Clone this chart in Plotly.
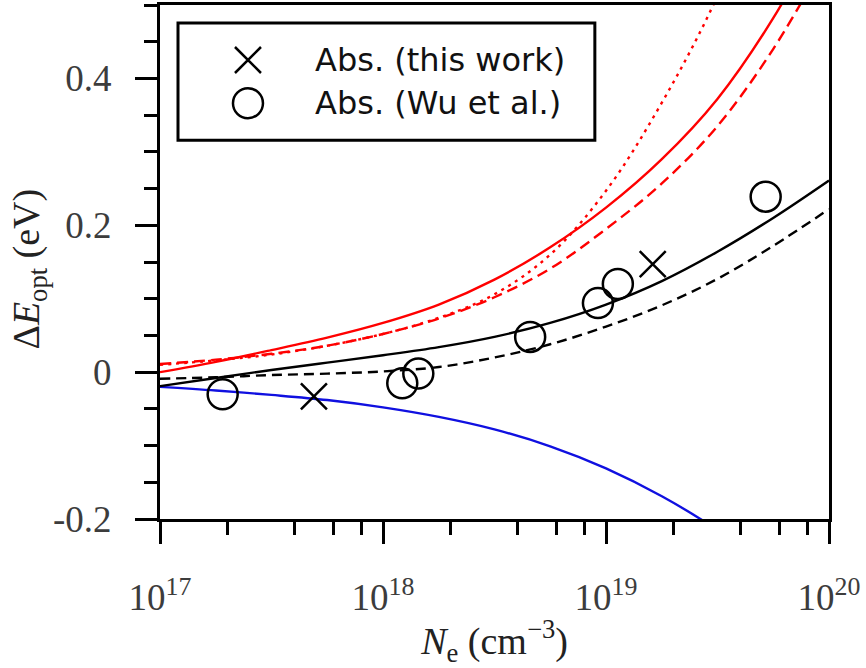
import plotly.graph_objects as go

# ---------------- data ----------------
N_grid = [1.0e17, 1.78e17, 3.16e17, 5.62e17, 1.0e18, 1.78e18, 3.16e18,
          5.62e18, 1.0e19, 1.78e19, 3.16e19, 5.62e19, 1.0e20]

black_solid = [-0.019, -0.008, 0.003, 0.013, 0.023, 0.034, 0.048,
               0.067, 0.092, 0.124, 0.164, 0.210, 0.261]
black_dashed = [-0.009, -0.007, -0.004, -0.002, 0.001, 0.007, 0.020,
                0.038, 0.062, 0.091, 0.127, 0.172, 0.222]
red_solid = [0.000, 0.014, 0.030, 0.047, 0.067, 0.092, 0.126,
             0.170, 0.224, 0.290, 0.372, 0.482, 0.620]
red_dashed = [0.011, 0.017, 0.025, 0.036, 0.052, 0.073, 0.102,
              0.141, 0.195, 0.257, 0.335, 0.440, 0.570]
N_dotted = [1.0e17, 1.78e17, 3.16e17, 5.62e17, 1.0e18, 1.78e18, 3.16e18,
            5.62e18, 1.0e19, 1.78e19, 3.16e19, 5.62e19]
red_dotted = [0.010, 0.016, 0.024, 0.036, 0.052, 0.074, 0.106,
              0.160, 0.247, 0.367, 0.512, 0.700]
blue_solid = [-0.020, -0.025, -0.031, -0.038, -0.048, -0.061, -0.078,
              -0.101, -0.131, -0.169, -0.215, -0.270, -0.330]

N_this = [4.9e17, 1.62e19]
dE_this = [-0.033, 0.147]
N_wu = [1.91e17, 1.22e18, 1.44e18, 4.57e18, 9.2e18, 1.13e19, 5.2e19]
dE_wu = [-0.030, -0.015, -0.002, 0.048, 0.094, 0.120, 0.239]

legend_labels = ["Abs. (this work)", "Abs. (Wu et al.)"]

x_tickvals = [1e17, 1e18, 1e19, 1e20]
x_ticktext = ["10<sup>17</sup>", "10<sup>18</sup>", "10<sup>19</sup>", "10<sup>20</sup>"]
x_minor = [2e17, 4e17, 6e17, 8e17, 2e18, 4e18, 6e18, 8e18, 2e19, 4e19, 6e19, 8e19]
y_tickvals = [-0.2, 0.0, 0.2, 0.4]
y_ticktext = ["-0.2", "0", "0.2", "0.4"]

x_title = "<i>N</i><sub>e</sub> (cm<sup>−3</sup>)"
y_title = "Δ<i>E</i><sub>opt</sub> (eV)"

SERIF = "Liberation Serif"
SANS = "DejaVu Sans"
LW = 2.4

fig = go.Figure()

def curve(x, y, color, dash):
    fig.add_trace(go.Scatter(x=x, y=y, mode="lines", line_shape="spline",
                             line=dict(color=color, width=LW, dash=dash),
                             showlegend=False, hoverinfo="skip"))

curve(N_grid, blue_solid, "#1010e0", "solid")
curve(N_grid, black_dashed, "black", "10px,6px")
curve(N_grid, black_solid, "black", "solid")
curve(N_grid, red_dashed, "#ff0000", "11px,6px")
curve(N_dotted, red_dotted, "#ff0000", "3px,5px")
curve(N_grid, red_solid, "#ff0000", "solid")

fig.add_trace(go.Scatter(x=N_this, y=dE_this, mode="markers", name=legend_labels[0],
                         marker=dict(symbol="x-thin-open", size=26, color="black",
                                     line=dict(color="black", width=2.5)),
                         showlegend=False, cliponaxis=False))
fig.add_trace(go.Scatter(x=N_wu, y=dE_wu, mode="markers", name=legend_labels[1],
                         marker=dict(symbol="circle-open", size=30, color="black",
                                     line=dict(color="black", width=2.5)),
                         showlegend=False, cliponaxis=False))

# ---- custom legend (large symbols) on an overlay axis in plot fractions ----
leg_x = 0.1315
leg_y = [0.893, 0.809]
fig.add_trace(go.Scatter(x=[leg_x], y=[leg_y[0]], xaxis="x2", yaxis="y2", mode="markers",
                         marker=dict(symbol="x-thin-open", size=26, color="black",
                                     line=dict(color="black", width=2.5)),
                         showlegend=False, hoverinfo="skip"))
fig.add_trace(go.Scatter(x=[leg_x], y=[leg_y[1]], xaxis="x2", yaxis="y2", mode="markers",
                         marker=dict(symbol="circle-open", size=30, color="black",
                                     line=dict(color="black", width=2.5)),
                         showlegend=False, hoverinfo="skip"))
for lbl, yy in zip(legend_labels, leg_y):
    fig.add_annotation(x=0.2287, y=yy, xref="x2", yref="y2", text=lbl, showarrow=False,
                       xanchor="left", yanchor="middle",
                       font=dict(family=SANS, size=32, color="#111111"))
fig.add_shape(type="rect", xref="x2", yref="y2", x0=0.0269, x1=0.650, y0=0.737, y1=0.965,
              line=dict(color="black", width=3), fillcolor="white", layer="below")

# y-axis title placed as rotated text to the left of the tick labels
fig.add_annotation(x=-0.196, y=0.487, xref="paper", yref="paper", text=y_title,
                   textangle=-90, showarrow=False, xanchor="center", yanchor="middle",
                   font=dict(family=SERIF, size=38, color="#222222"))

axis_common = dict(showline=True, linecolor="black", linewidth=3, mirror=True,
                   ticks="outside", ticklen=22, tickwidth=3, tickcolor="black",
                   showgrid=False, zeroline=False, automargin=False,
                   tickfont=dict(family=SERIF, size=37, color="#3c3c3c"))

fig.update_layout(
    width=866, height=668,
    margin=dict(l=160, r=37, t=5, b=149, autoexpand=False),
    paper_bgcolor="white", plot_bgcolor="white",
    xaxis=dict(type="log", range=[17, 20], tickmode="array",
               tickvals=x_tickvals, ticktext=x_ticktext,
               minor=dict(tickmode="array", tickvals=x_minor, ticks="outside",
                          ticklen=13, tickwidth=3, tickcolor="black"),
               ticklabelstandoff=22,
               title=dict(text=x_title, standoff=22,
                          font=dict(family=SERIF, size=38, color="#222222")),
               **axis_common),
    yaxis=dict(range=[-0.2, 0.5], tickmode="array", tickvals=y_tickvals, ticktext=y_ticktext,
               minor=dict(tickmode="linear", tick0=0, dtick=0.05, ticks="outside",
                          ticklen=13, tickwidth=3, tickcolor="black"),
               ticklabelstandoff=16,
               **axis_common),
    xaxis2=dict(overlaying="x", range=[0, 1], visible=False),
    yaxis2=dict(overlaying="y", range=[0, 1], visible=False),
)

fig.write_html("out.html")
